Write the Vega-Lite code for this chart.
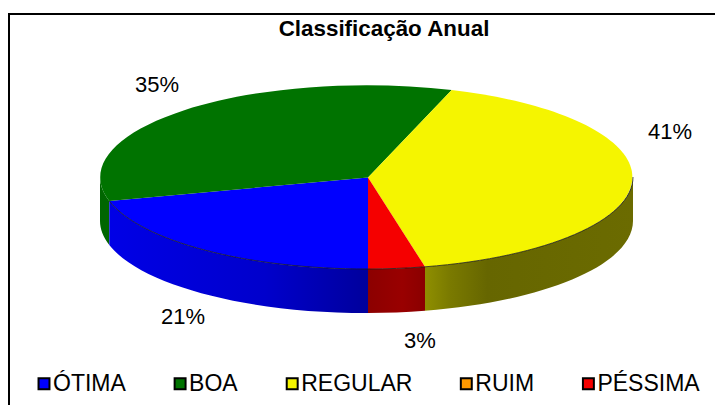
{
"$schema":"https://vega.github.io/schema/vega-lite/v6.json",
"width":721,"height":406,
"autosize":{"type":"none"},
"padding":{"left":9,"top":14,"right":-15,"bottom":-15},
"background":"#ffffff",
"config":{"view":{"stroke":"#000000","strokeWidth":2,"fill":"#ffffff"}},
"data":{"values":[
{"categoria":"ÓTIMA","valor":21,"rotulo":"21%"},
{"categoria":"BOA","valor":35,"rotulo":"35%"},
{"categoria":"REGULAR","valor":41,"rotulo":"41%"},
{"categoria":"RUIM","valor":0,"rotulo":"0%"},
{"categoria":"PÉSSIMA","valor":3,"rotulo":"3%"}
]},
"layer":[
{"transform":[{"filter":"datum.categoria === 'BOA'"}],
 "mark":{"type":"point","filled":true,"opacity":1,"fill":"#006600","strokeWidth":0,"size":4,"shape":"M-269.5 -40 A266.5 92 0 0 0 -260.2 -16 L-260.2 28 A266.5 92 0 0 1 -269.5 4 Z"},
 "encoding":{}},
{"transform":[{"filter":"datum.categoria === 'ÓTIMA'"}],
 "mark":{"type":"point","filled":true,"opacity":1,"strokeWidth":0,"size":4,"shape":"M-260.2 -16 A266.5 92 0 0 0 -1.5 52 L-1.5 96 A266.5 92 0 0 1 -260.2 28 Z",
  "fill":{"gradient":"linear","x1":0,"y1":0,"x2":1,"y2":0,"stops":[{"offset":0,"color":"#0000E6"},{"offset":0.6,"color":"#0000CC"},{"offset":1,"color":"#00009C"}]}},
 "encoding":{}},
{"transform":[{"filter":"datum.categoria === 'PÉSSIMA'"}],
 "mark":{"type":"point","filled":true,"opacity":1,"strokeWidth":0,"size":4,"shape":"M-1.5 52 A266.5 92 0 0 0 55.5 49.8 L55.5 93.8 A266.5 92 0 0 1 -1.5 96 Z",
  "fill":{"gradient":"linear","x1":0,"y1":0,"x2":1,"y2":0,"stops":[{"offset":0,"color":"#8C0000"},{"offset":0.6,"color":"#990000"},{"offset":1,"color":"#8A0000"}]}},
 "encoding":{}},
{"transform":[{"filter":"datum.categoria === 'REGULAR'"}],
 "mark":{"type":"point","filled":true,"opacity":1,"strokeWidth":0,"size":4,"shape":"M55.5 49.8 A266.5 92 0 0 0 263.5 -40 L263.5 4 A266.5 92 0 0 1 55.5 93.8 Z",
  "fill":{"gradient":"linear","x1":0,"y1":0,"x2":1,"y2":0,"stops":[{"offset":0,"color":"#8F8F00"},{"offset":0.12,"color":"#7A7A00"},{"offset":0.3,"color":"#666600"},{"offset":1,"color":"#6B6B00"}]}},
 "encoding":{}},
{"transform":[{"filter":"datum.valor > 0"}],
 "mark":{"type":"point","filled":true,"opacity":1,"strokeWidth":0,"size":4},
 "encoding":{
  "color":{"field":"categoria","type":"nominal","sort":null,
   "scale":{"domain":["ÓTIMA","BOA","REGULAR","RUIM","PÉSSIMA"],"range":["#0000FF","#007300","#F5F500","#FF9900","#F50000"]},
   "legend":{"title":null,"orient":"none","legendX":23.5,"legendY":358,"direction":"horizontal","columns":5,"columnPadding":42.1,"symbolType":"square","symbolSize":120,"symbolStrokeColor":"#000000","symbolStrokeWidth":2,"symbolOpacity":1,"labelFont":"Liberation Sans","labelFontSize":23,"labelColor":"#000000","labelOffset":-2.5,"labelLimit":200,"padding":0}},
  "shape":{"field":"categoria","type":"nominal","legend":null,
   "scale":{"domain":["ÓTIMA","BOA","REGULAR","PÉSSIMA"],"range":[
    "M-1.5 -39.5 L-1.5 52 A266.5 92 0 0 1 -260.2 -16 Z",
    "M-1.5 -39.5 L-260.2 -16 A266.5 92 0 0 1 82.2 -127 Z",
    "M-1.5 -39.5 L82.2 -127 A266.5 92 0 0 1 55.5 49.8 Z",
    "M-1.5 -39.5 L55.5 49.8 A266.5 92 0 0 1 -1.5 52 Z"]}}
 }},
{"transform":[{"filter":"datum.valor > 0 && datum.categoria !== 'BOA'"}],
 "mark":{"type":"point","filled":false,"opacity":0.85,"stroke":"#1A1A1A","strokeWidth":0.9,"size":4},
 "encoding":{
  "shape":{"field":"categoria","type":"nominal","legend":null,
   "scale":{"domain":["ÓTIMA","REGULAR","PÉSSIMA"],"range":[
    "M-260.2 -16 A266.5 92 0 0 0 -1.5 52",
    "M55.5 49.8 A266.5 92 0 0 0 263.5 -40",
    "M-1.5 52 A266.5 92 0 0 0 55.5 49.8"]}}
 }},
{"transform":[{"filter":"datum.valor > 0"}],
 "mark":{"type":"text","font":"Liberation Sans","fontSize":22,"color":"#000000","align":"center","baseline":"alphabetic"},
 "encoding":{
  "x":{"field":"valor","type":"quantitative","axis":null,"scale":{"domain":[3,21,35,41],"range":[411,174,148,661]}},
  "y":{"field":"valor","type":"quantitative","axis":null,"scale":{"domain":[3,21,35,41],"range":[334,310,78,125]}},
  "text":{"field":"rotulo","type":"nominal"}
 }},
{"data":{"values":[{"titulo":"Classificação Anual"}]},
 "mark":{"type":"text","font":"Liberation Sans","fontSize":22.4,"fontWeight":"bold","color":"#000000","align":"center","baseline":"alphabetic","dx":14.5,"dy":-181},
 "encoding":{"text":{"field":"titulo","type":"nominal"}}}
],
"resolve":{"scale":{"shape":"independent"}}
}
